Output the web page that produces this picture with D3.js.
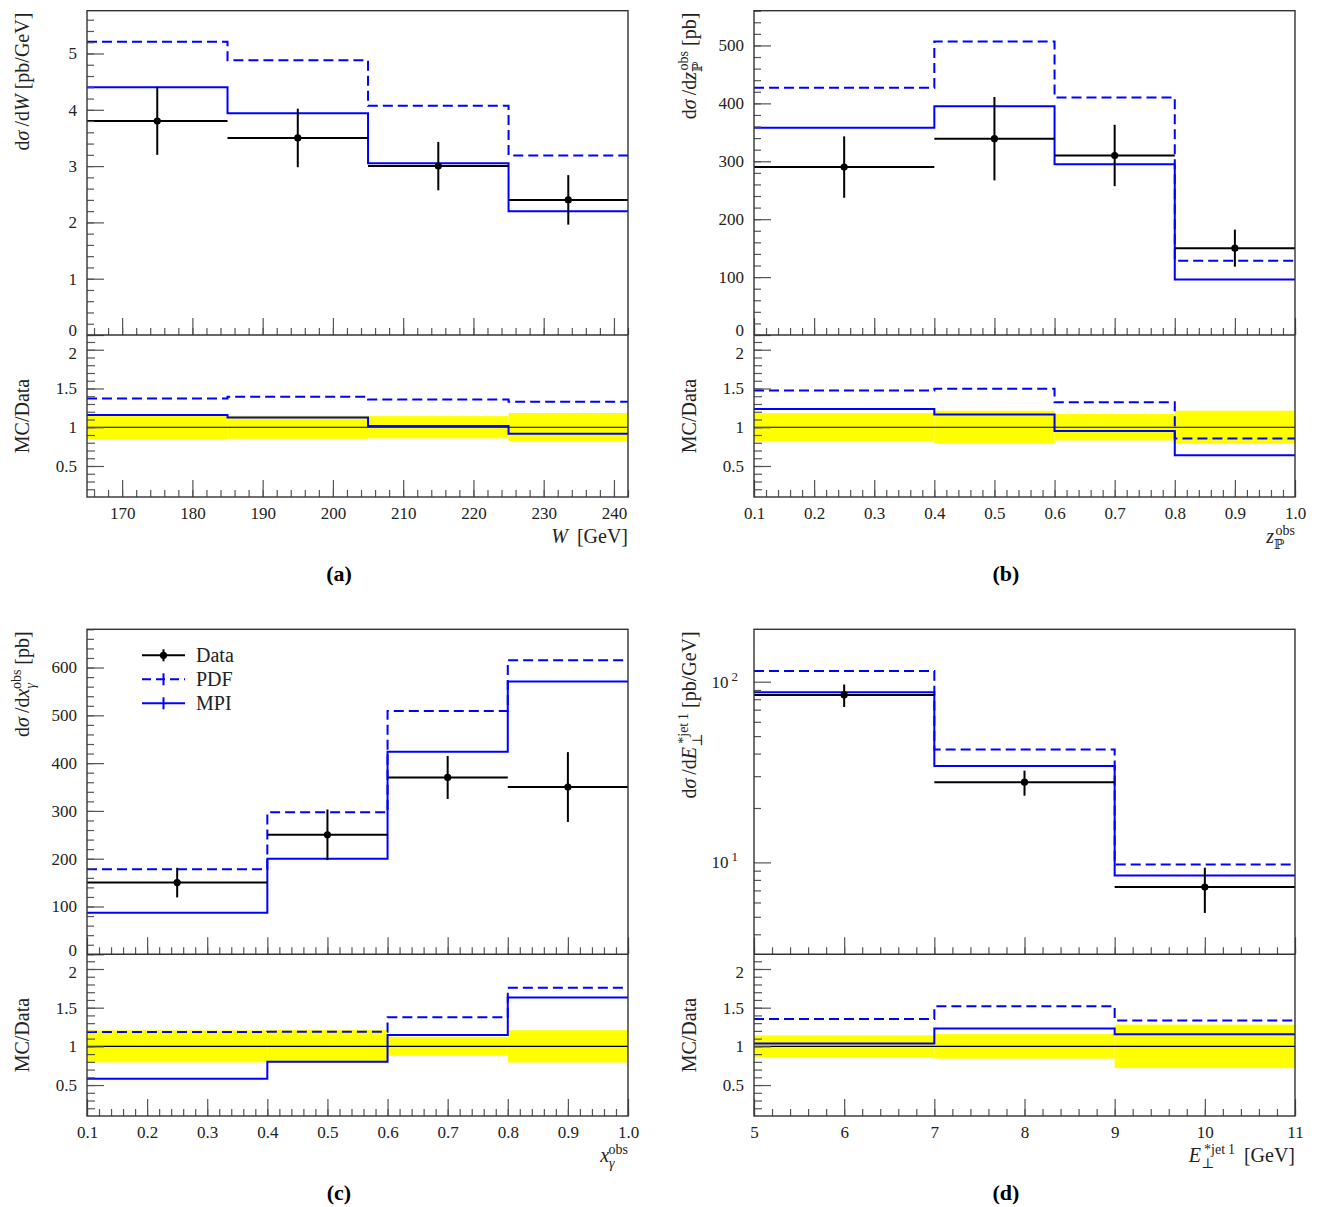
<!DOCTYPE html>
<html>
<head>
<meta charset="utf-8">
<script src="https://cdn.jsdelivr.net/npm/d3@7"></script>
<style>
  body { margin: 0; background: #fff; }
</style>
</head>
<body>
<div id="chart"></div>
<script>
// ---- values ----
const aEdges = [165, 185, 205, 225, 242];
const aData = [3.8, 3.5, 3.0, 2.4];
const aErr = [0.6, 0.52, 0.43, 0.44];
const aPDF = [5.21, 4.88, 4.07, 3.19];
const aMPI = [4.40, 3.94, 3.05, 2.20];

const bEdges = [0.1, 0.4, 0.6, 0.8, 1.0];
const bData = [290, 339, 310, 150];
const bErr = [53, 72, 53, 32];
const bPDF = [427, 507, 410, 128];
const bMPI = [358, 395, 295, 96];

const cEdges = [0.1, 0.4, 0.6, 0.8, 1.0];
const cData = [150, 250, 370, 350];
const cErr = [31, 53, 45, 73];
const cPDF = [178, 297, 509, 615];
const cMPI = [87, 200, 424, 571];

const dEdges = [5, 7, 9, 11];
const dData = [84.5, 27.8, 7.3];
const dErr = [12, 4.4, 2.05];
const dPDF = [114.5, 42.2, 9.75];
const dMPI = [87.5, 34.2, 8.45];

const legendLabels = ['Data', 'PDF', 'MPI'];
const ratioMajor = [0.5, 1, 1.5, 2];

const FONT = '"Liberation Serif", "DejaVu Serif", serif';
const BLUE = '#0000ff';
const TICK_FONT = 17;

let svg = d3.select('#chart')
  .append('svg')
  .attr('width', 1318)
  .attr('height', 1207)
  .style('background', '#fff');

// append text made of pieces, with sub/superscripts handled by dy
function addRich(text, parts, size) {
  let cur = 0;
  parts.forEach((p) => {
    let target = p.s === 'sub' ? size * 0.32 : p.s === 'sup' ? -size * 0.42 : 0;
    let ts = text.append('tspan').attr('dy', target - cur).text(p.t);
    cur = target;
    if (p.s) ts.attr('font-size', size * 0.7);
    if (p.i) ts.style('font-style', 'italic');
    if (p.dx) ts.attr('dx', p.dx);
  });
}

let panels = [
  {
    tag: '(a)', left: 87, right: 628, top: 10.7, mid: 335, bottom: 497,
    edges: aEdges, data: aData, err: aErr, pdf: aPDF, mpi: aMPI,
    xDomain: [165, 242], xMajor: d3.range(170, 241, 10), xMinor: d3.range(166, 243, 2),
    xFmt: d3.format('d'),
    yDomain: [0, 5.76], yMajor: d3.range(0, 6, 1), yMinor: d3.range(0, 5.77, 0.2),
    yFmt: d3.format('d'),
    yTitle: [{t: 'd'}, {t: 'σ', i: true}, {t: '\u2009/d'}, {t: 'W', i: true}, {t: ' [pb/GeV]'}],
    xTitle: [{t: 'W', i: true}, {t: '\u2009 [GeV]'}]
  },
  {
    tag: '(b)', left: 754, right: 1295, top: 10.7, mid: 335, bottom: 497,
    edges: bEdges, data: bData, err: bErr, pdf: bPDF, mpi: bMPI,
    xDomain: [0.1, 1.0], xMajor: d3.range(0.1, 1.01, 0.1), xMinor: d3.range(0.1, 1.001, 0.02),
    xFmt: d3.format('.1f'),
    yDomain: [0, 560], yMajor: d3.range(0, 501, 100), yMinor: d3.range(0, 561, 20),
    yFmt: d3.format('d'),
    yTitle: [{t: 'd'}, {t: 'σ', i: true}, {t: '\u2009/d'}, {t: 'z', i: true}, {t: 'ℙ', s: 'sub'},
      {t: 'obs', s: 'sup', dx: -9}, {t: ' [pb]'}],
    xTitle: [{t: 'z', i: true}, {t: 'ℙ', s: 'sub'}, {t: 'obs', s: 'sup', dx: -9}]
  },
  {
    tag: '(c)', left: 87, right: 628, top: 629.3, mid: 954.3, bottom: 1116,
    edges: cEdges, data: cData, err: cErr, pdf: cPDF, mpi: cMPI, legend: true,
    xDomain: [0.1, 1.0], xMajor: d3.range(0.1, 1.01, 0.1), xMinor: d3.range(0.1, 1.001, 0.02),
    xFmt: d3.format('.1f'),
    yDomain: [0, 680], yMajor: d3.range(0, 601, 100), yMinor: d3.range(0, 681, 20),
    yFmt: d3.format('d'),
    yTitle: [{t: 'd'}, {t: 'σ', i: true}, {t: '\u2009/d'}, {t: 'x', i: true}, {t: 'γ', s: 'sub', i: true},
      {t: 'obs', s: 'sup', dx: -6}, {t: ' [pb]'}],
    xTitle: [{t: 'x', i: true}, {t: 'γ', s: 'sub', i: true}, {t: 'obs', s: 'sup', dx: -6}]
  },
  {
    tag: '(d)', left: 754, right: 1295, top: 629.3, mid: 954.3, bottom: 1116,
    edges: dEdges, data: dData, err: dErr, pdf: dPDF, mpi: dMPI, log: true,
    xDomain: [5, 11], xMajor: d3.range(5, 11.1, 1), xMinor: d3.range(5, 11.01, 0.2),
    xFmt: d3.format('d'),
    yDomain: [3.1, 195], yMajor: [10, 100], yMinor: [4, 5, 6, 7, 8, 9, 20, 30, 40, 50, 60, 70, 80, 90],
    yTitle: [{t: 'd'}, {t: 'σ', i: true}, {t: '\u2009/d'}, {t: 'E', i: true}, {t: '⊥', s: 'sub'},
      {t: '*jet\u20091', s: 'sup', dx: -10}, {t: ' [pb/GeV]'}],
    xTitle: [{t: 'E', i: true}, {t: '⊥', s: 'sub'}, {t: '*jet\u20091', s: 'sup', dx: -10}, {t: '\u2009 [GeV]'}]
  }
];

function styleAxis(g) {
  g.select('.domain').remove();
  g.attr('font-family', FONT).attr('font-size', TICK_FONT);
  g.selectAll('line').attr('stroke', '#555').attr('stroke-width', 1.2);
  g.selectAll('text').attr('fill', '#222');
}

function stepPoints(edges, vals) {
  let pts = [];
  vals.forEach((v, i) => {
    pts.push([edges[i], v]);
    pts.push([edges[i + 1], v]);
  });
  return pts;
}

panels.forEach((p) => {
  let g = svg.append('g').attr('class', 'panel');

  let x = d3.scaleLinear().domain(p.xDomain).range([p.left, p.right]);
  let y = (p.log ? d3.scaleLog() : d3.scaleLinear()).domain(p.yDomain).range([p.mid, p.top]);
  let yr = d3.scaleLinear().domain([0.1, 2.19]).range([p.bottom, p.mid]);

  let centers = p.data.map((d, i) => (p.edges[i] + p.edges[i + 1]) / 2);
  let ratioPDF = p.pdf.map((v, i) => v / p.data[i]);
  let ratioMPI = p.mpi.map((v, i) => v / p.data[i]);
  let relErr = p.err.map((e, i) => e / p.data[i]);

  // ---------- ratio panel ----------
  g.selectAll('.band')
    .data(relErr)
    .enter()
    .append('rect')
    .attr('class', 'band')
    .attr('x', (d, i) => x(p.edges[i]))
    .attr('width', (d, i) => x(p.edges[i + 1]) - x(p.edges[i]))
    .attr('y', (d) => yr(1 + d))
    .attr('height', (d) => yr(1 - d) - yr(1 + d))
    .attr('fill', '#ffff00');

  g.append('line')
    .attr('x1', p.left).attr('x2', p.right)
    .attr('y1', yr(1)).attr('y2', yr(1))
    .attr('stroke', '#000').attr('stroke-width', 1.2);

  let rline = d3.line().x((d) => x(d[0])).y((d) => yr(d[1]));
  g.append('path')
    .attr('d', rline(stepPoints(p.edges, ratioPDF)))
    .attr('fill', 'none').attr('stroke', BLUE).attr('stroke-width', 2)
    .attr('stroke-dasharray', '10,5');
  g.append('path')
    .attr('d', rline(stepPoints(p.edges, ratioMPI)))
    .attr('fill', 'none').attr('stroke', BLUE).attr('stroke-width', 2);

  // ---------- main panel ----------
  let line = d3.line().x((d) => x(d[0])).y((d) => y(d[1]));
  g.append('path')
    .attr('d', line(stepPoints(p.edges, p.pdf)))
    .attr('fill', 'none').attr('stroke', BLUE).attr('stroke-width', 2)
    .attr('stroke-dasharray', '10,5');
  g.append('path')
    .attr('d', line(stepPoints(p.edges, p.mpi)))
    .attr('fill', 'none').attr('stroke', BLUE).attr('stroke-width', 2);

  let pts = g.selectAll('.pt')
    .data(p.data)
    .enter()
    .append('g')
    .attr('class', 'pt');
  pts.append('line')
    .attr('x1', (d, i) => x(p.edges[i])).attr('x2', (d, i) => x(p.edges[i + 1]))
    .attr('y1', (d) => y(d)).attr('y2', (d) => y(d))
    .attr('stroke', '#000').attr('stroke-width', 2);
  pts.append('line')
    .attr('x1', (d, i) => x(centers[i])).attr('x2', (d, i) => x(centers[i]))
    .attr('y1', (d, i) => y(d - p.err[i])).attr('y2', (d, i) => y(d + p.err[i]))
    .attr('stroke', '#000').attr('stroke-width', 2);
  pts.append('circle')
    .attr('cx', (d, i) => x(centers[i]))
    .attr('cy', (d) => y(d))
    .attr('r', 3.6)
    .attr('fill', '#000');

  // ---------- axes ----------
  g.append('g')
    .attr('transform', `translate(${p.left},0)`)
    .call(d3.axisLeft(y).tickValues(p.yMinor).tickSize(-7).tickFormat(''))
    .call(styleAxis);
  let yMaj = g.append('g')
    .attr('transform', `translate(${p.left},0)`)
    .call(d3.axisLeft(y).tickValues(p.yMajor).tickSize(-17).tickPadding(10)
      .tickFormat(p.log ? () => '10' : p.yFmt))
    .call(styleAxis);
  if (p.log) {
    yMaj.selectAll('text')
      .attr('dy', '0.32em')
      .append('tspan')
      .attr('dy', -7)
      .attr('dx', 3)
      .attr('font-size', 13)
      .text((d) => Math.round(Math.log10(d)));
    yMaj.selectAll('text').attr('transform', 'translate(-6,0)');
  } else {
    // the zero label sits right above the ratio panel's top label
    yMaj.selectAll('.tick').filter((d) => d === 0)
      .select('text').attr('dy', '0.05em');
  }

  g.append('g')
    .attr('transform', `translate(0,${p.mid})`)
    .call(d3.axisBottom(x).tickValues(p.xMinor).tickSize(-7).tickFormat(''))
    .call(styleAxis);
  g.append('g')
    .attr('transform', `translate(0,${p.mid})`)
    .call(d3.axisBottom(x).tickValues(p.xMajor).tickSize(-17).tickFormat(''))
    .call(styleAxis);

  g.append('g')
    .attr('transform', `translate(${p.left},0)`)
    .call(d3.axisLeft(yr).tickValues(d3.range(0.2, 2.15, 0.1)).tickSize(-8).tickFormat(''))
    .call(styleAxis);
  let rMaj = g.append('g')
    .attr('transform', `translate(${p.left},0)`)
    .call(d3.axisLeft(yr).tickValues(ratioMajor).tickSize(-17).tickPadding(10).tickFormat(d3.format('~g')))
    .call(styleAxis);
  rMaj.selectAll('.tick').filter((d) => d === 2)
    .select('text').attr('dy', '0.5em');

  g.append('g')
    .attr('transform', `translate(0,${p.bottom})`)
    .call(d3.axisBottom(x).tickValues(p.xMinor).tickSize(-7).tickFormat(''))
    .call(styleAxis);
  g.append('g')
    .attr('transform', `translate(0,${p.bottom})`)
    .call(d3.axisBottom(x).tickValues(p.xMajor).tickSize(-17).tickPadding(10).tickFormat(p.xFmt))
    .call(styleAxis);

  // frame
  g.append('rect')
    .attr('x', p.left).attr('y', p.top)
    .attr('width', p.right - p.left).attr('height', p.bottom - p.top)
    .attr('fill', 'none').attr('stroke', '#333').attr('stroke-width', 1.4);
  g.append('line')
    .attr('x1', p.left).attr('x2', p.right)
    .attr('y1', p.mid).attr('y2', p.mid)
    .attr('stroke', '#333').attr('stroke-width', 1.4);

  // ---------- titles ----------
  let yt = g.append('text')
    .attr('transform', `translate(${p.left - 58},${p.top + 2}) rotate(-90)`)
    .attr('text-anchor', 'end')
    .attr('font-family', FONT).attr('font-size', 20).attr('fill', '#222');
  addRich(yt, p.yTitle, 20);

  g.append('text')
    .attr('transform', `translate(${p.left - 58},${(p.mid + p.bottom) / 2}) rotate(-90)`)
    .attr('text-anchor', 'middle')
    .attr('font-family', FONT).attr('font-size', 20).attr('fill', '#222')
    .text('MC/Data');

  let xt = g.append('text')
    .attr('x', p.right).attr('y', p.bottom + 46)
    .attr('text-anchor', 'end')
    .attr('font-family', FONT).attr('font-size', 20).attr('fill', '#222');
  addRich(xt, p.xTitle, 20);

  g.append('text')
    .attr('x', p.left + 252).attr('y', p.bottom + 84)
    .attr('text-anchor', 'middle')
    .attr('font-family', FONT).attr('font-size', 22).attr('font-weight', 'bold')
    .text(p.tag);

  // ---------- legend ----------
  if (p.legend) {
    let leg = g.selectAll('.legend')
      .data(legendLabels)
      .enter()
      .append('g')
      .attr('class', 'legend')
      .attr('transform', (d, i) => `translate(${p.left + 55},${p.top + 26 + i * 24})`);
    leg.append('line')
      .attr('x1', 0).attr('x2', 43).attr('y1', 0).attr('y2', 0)
      .attr('stroke', (d, i) => i === 0 ? '#000' : BLUE)
      .attr('stroke-width', 2)
      .attr('stroke-dasharray', (d, i) => i === 1 ? '9,5' : null);
    leg.append('line')
      .attr('x1', 21.5).attr('x2', 21.5).attr('y1', -6).attr('y2', 6)
      .attr('stroke', (d, i) => i === 0 ? '#000' : BLUE)
      .attr('stroke-width', 2);
    leg.filter((d, i) => i === 0)
      .append('circle')
      .attr('cx', 21.5).attr('cy', 0).attr('r', 3.6).attr('fill', '#000');
    leg.append('text')
      .attr('x', 54).attr('y', 6.5)
      .attr('font-family', FONT).attr('font-size', 20).attr('fill', '#222')
      .text((d) => d);
  }
});
</script>
</body>
</html>
